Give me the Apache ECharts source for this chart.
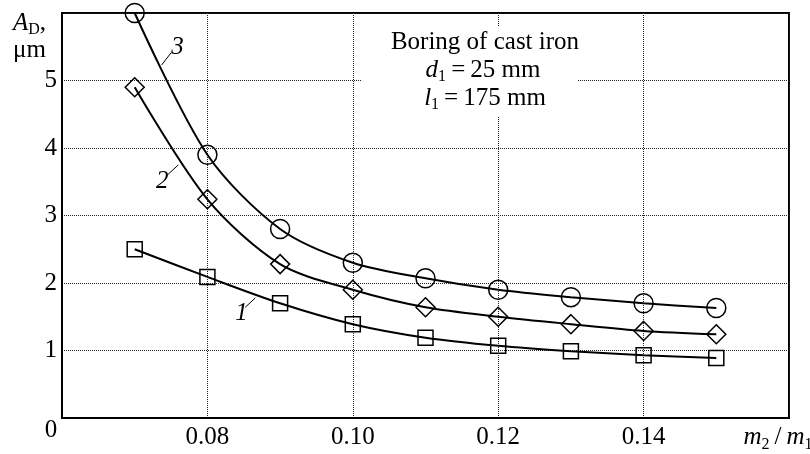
<!DOCTYPE html>
<html><head><meta charset="utf-8">
<script src="https://cdn.jsdelivr.net/npm/echarts@6/dist/echarts.min.js"></script>
<style>html,body{margin:0;padding:0;background:#fff}#c{width:810px;height:454px}</style>
</head><body><div id="c"></div>
<script>
// ---- data ----
const xValues = [0.07, 0.08, 0.09, 0.10, 0.11, 0.12, 0.13, 0.14, 0.15];
const curve1 = [2.50, 2.09, 1.70, 1.39, 1.19, 1.07, 0.99, 0.93, 0.89]; // squares
const curve2 = [4.90, 3.24, 2.28, 1.90, 1.64, 1.50, 1.39, 1.29, 1.24]; // diamonds
const curve3 = [6.00, 3.90, 2.80, 2.30, 2.07, 1.90, 1.79, 1.70, 1.63]; // circles
const curveNames = ['1', '2', '3'];
const yTickLabels = ['1', '2', '3', '4', '5'];
const xTickLabels = ['0.08', '0.10', '0.12', '0.14'];
const noteLines = ['Boring of cast iron', 'd|1|25 mm', 'l|1|175 mm'];

const FONT = '"Liberation Serif", "DejaVu Serif", serif';
const FS = 25;
const chart = echarts.init(document.getElementById('c'), null, {renderer: 'canvas'});

const rich = {
  n: {fontFamily: FONT, fontSize: FS, color: '#000', lineHeight: 27},
  i: {fontFamily: FONT, fontSize: FS, color: '#000', lineHeight: 27, fontStyle: 'italic'},
  s: {fontFamily: FONT, fontSize: 16, color: '#000', lineHeight: 16, padding: [14, 0, 0, 0]},
  z: {fontFamily: FONT, fontSize: FS, color: '#000', lineHeight: 27, padding: [0, 22, 0, 0]}
};

function series(name, vals, symbol, size, leader, labelAt) {
  return {
    type: 'line', name: name,
    data: xValues.map((x, i) => [x, vals[i]]),
    smooth: 0.3, clip: false, symbol: symbol, symbolSize: size, showAllSymbol: true,
    lineStyle: {color: '#000', width: 2},
    itemStyle: {color: 'rgba(0,0,0,0)', borderColor: '#000', borderWidth: 1.5},
    emphasis: {disabled: true},
    z: 3,
    markLine: {
      silent: true, animation: false, symbol: ['none', 'none'],
      lineStyle: {color: '#000', width: 1, type: 'solid'},
      label: {show: false},
      data: [[{coord: leader[0]}, {coord: leader[1]}]]
    },
    markPoint: {
      silent: true, animation: false, symbol: 'circle', symbolSize: 1,
      itemStyle: {color: 'rgba(0,0,0,0)'},
      label: {show: true, position: 'inside', formatter: name, fontFamily: FONT,
              fontSize: FS, fontStyle: 'italic', color: '#000'},
      data: [{coord: labelAt}]
    }
  };
}

function noteRich(s) {
  const p = s.split('|');
  if (p.length === 1) return '{n|' + s + '}';
  return '{i|' + p[0] + '}{s|' + p[1] + '}{n|\u2009=\u2009' + p[2] + '}';
}

const option = {
  animation: false,
  backgroundColor: '#fff',
  grid: {left: 62, right: 21, top: 13, bottom: 36, show: true, containLabel: false,
         outerBoundsMode: 'none',
         borderColor: '#000', borderWidth: 2, backgroundColor: 'rgba(0,0,0,0)'},
  xAxis: {
    type: 'value', min: 0.06, max: 0.16, interval: 0.02,
    axisLine: {show: true, lineStyle: {color: '#000', width: 2}},
    axisTick: {show: false},
    splitLine: {show: true, lineStyle: {color: '#222', width: 1, type: [1, 1]}},
    axisLabel: {
      show: true, margin: 6, showMinLabel: true, showMaxLabel: true, hideOverlap: false,
      fontFamily: FONT, fontSize: FS, color: '#000',
      formatter: function (v) {
        const k = Math.round((v - 0.06) / 0.02);
        if (k === 0) return '';
        if (k === 5) return '{i|m}{s|2}{n|\u2009/\u2009}{i|m}{s|1}{z|}';
        return '{n|' + xTickLabels[k - 1] + '}';
      },
      rich: rich
    }
  },
  yAxis: {
    type: 'value', min: 0, max: 6, interval: 1,
    axisLine: {show: true, lineStyle: {color: '#000', width: 2}},
    axisTick: {show: false},
    splitLine: {show: true, lineStyle: {color: '#222', width: 1, type: [1, 1]}},
    axisLabel: {
      margin: 5, fontFamily: FONT, fontSize: FS, color: '#000',
      formatter: function (v) {
        const k = Math.round(v);
        return (k >= 1 && k <= 5) ? yTickLabels[k - 1] : '';
      }
    }
  },
  series: [
    series(curveNames[0], curve1, 'rect', 15, [[0.0866, 1.78], [0.0852, 1.64]], [0.0847, 1.55]),
    series(curveNames[1], curve2, 'diamond', 19, [[0.0760, 3.75], [0.0745, 3.60]], [0.0738, 3.50]),
    series(curveNames[2], curve3, 'circle', 19, [[0.0737, 5.23], [0.0750, 5.41]], [0.0759, 5.49])
  ],
  graphic: [
    {type: 'rect', shape: {x: 362, y: 27, width: 216, height: 90}, style: {fill: '#fff'}, z: 1},
    {type: 'text', x: 485, y: 42, z: 2, style: {text: noteRich(noteLines[0]), rich: rich, align: 'center', verticalAlign: 'middle'}},
    {type: 'text', x: 483, y: 70, z: 2, style: {text: noteRich(noteLines[1]), rich: rich, align: 'center', verticalAlign: 'middle'}},
    {type: 'text', x: 485, y: 98, z: 2, style: {text: noteRich(noteLines[2]), rich: rich, align: 'center', verticalAlign: 'middle'}},
    {type: 'text', x: 13, y: 23, z: 2, style: {text: '{i|A}{s|D}{n|,}', rich: rich, align: 'left', verticalAlign: 'middle'}},
    {type: 'text', x: 13, y: 50, z: 2, style: {text: '{n|\u03bcm}', rich: rich, align: 'left', verticalAlign: 'middle'}},
    {type: 'text', x: 51, y: 430, z: 2, style: {text: '{n|0}', rich: rich, align: 'center', verticalAlign: 'middle'}}
  ]
};
chart.setOption(option);
</script>
</body></html>
